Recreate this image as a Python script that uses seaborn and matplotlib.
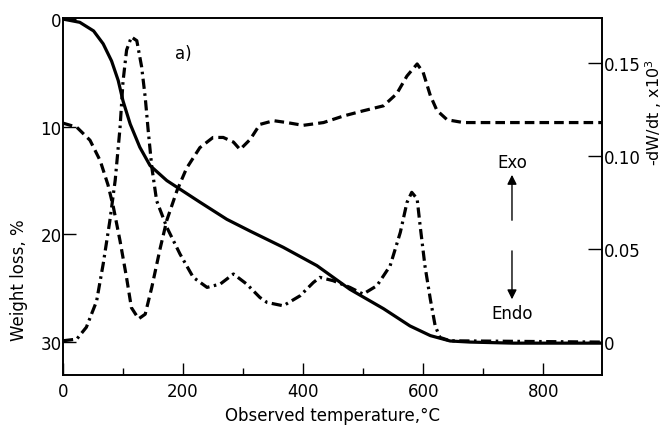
import numpy as np
import pandas as pd
import seaborn as sns
import matplotlib.pyplot as plt
from matplotlib.ticker import MultipleLocator

# TG curve: weight loss (%) vs temperature
tg_temp = [0, 28, 51, 67, 81, 92, 100, 112, 128, 145, 173, 195, 228, 273, 312, 367, 423,
           478, 534, 578, 612, 645, 678, 750, 898]
tg_loss = [0, 0.3, 1.1, 2.3, 3.9, 5.7, 7.6, 9.75, 11.9, 13.6, 15.0, 15.8, 17.0, 18.6, 19.7,
           21.2, 22.9, 25.1, 26.9, 28.5, 29.4, 29.9, 30.0, 30.1, 30.1]

# DTA curve (dashed), plotted against the right scale
dta_temp = [0, 23, 45, 62, 75, 84, 95, 106, 114, 126, 137, 148, 162, 173, 190, 206, 228,
            250, 267, 284, 295, 312, 328, 351, 373, 400, 434, 467, 500, 534, 556, 573, 590,
            600, 612, 623, 640, 667, 750, 898]
dta_val = [0.1177, 0.1155, 0.1085, 0.0975, 0.0845, 0.0725, 0.0545, 0.0345, 0.0185, 0.0125,
           0.015, 0.0295, 0.0505, 0.0655, 0.0815, 0.0935, 0.1045, 0.11, 0.11, 0.1075, 0.1035,
           0.109, 0.117, 0.119, 0.118, 0.1165, 0.118, 0.1215, 0.1243, 0.127, 0.1335, 0.143,
           0.1495, 0.145, 0.1325, 0.1245, 0.1195, 0.118, 0.118, 0.118]

# DTG curve (dash-dot): -dW/dt x10^3
dtg_temp = [0, 23, 39, 56, 67, 78, 87, 95, 100, 106, 114, 123, 131, 137, 142, 148, 156, 173,
            195, 217, 240, 262, 284, 306, 328, 340, 367, 395, 417, 428, 450, 478, 500, 523,
            545, 562, 573, 581, 590, 595, 603, 612, 620, 628, 645, 898]
dtg_val = [0.0007, 0.0016, 0.008, 0.022, 0.042, 0.065, 0.087, 0.115, 0.140, 0.157, 0.164,
           0.162, 0.148, 0.1316, 0.1136, 0.094, 0.076, 0.0617, 0.0473, 0.0348, 0.0294, 0.0312,
           0.0366, 0.0312, 0.024, 0.0213, 0.0195, 0.0249, 0.032, 0.0348, 0.033, 0.0294, 0.0258,
           0.0303, 0.041, 0.059, 0.075, 0.0805, 0.077, 0.0625, 0.041, 0.023, 0.0088, 0.0025,
           0.0007, 0.0]

x_ticks = [0, 200, 400, 600, 800]
left_ticks = [0, 10, 20, 30]
right_ticks = [0, 0.05, 0.10, 0.15]
right_labels = ["0", "0.05", "0.10", "0.15"]

sns.set_style("ticks", {"text.color": "black", "axes.labelcolor": "black",
                        "axes.edgecolor": "black", "xtick.color": "black",
                        "ytick.color": "black"})
plt.rcParams['font.family'] = ['DejaVu Sans']
plt.rcParams['font.size'] = 12

fig = plt.figure(figsize=(6.65, 4.27), dpi=100)
ax = fig.add_axes([0.0947, 0.1194, 0.8106, 0.8361])
ax2 = ax.twinx()

tg = pd.DataFrame({"T": tg_temp, "w": tg_loss})
dta = pd.DataFrame({"T": dta_temp, "v": dta_val})
dtg = pd.DataFrame({"T": dtg_temp, "v": dtg_val})

sns.lineplot(data=tg, x="T", y="w", ax=ax, color="black", linewidth=2.3)
sns.lineplot(data=dta, x="T", y="v", ax=ax2, color="black", linewidth=2.3,
             linestyle=(0, (3.0, 1.6)))
sns.lineplot(data=dtg, x="T", y="v", ax=ax2, color="black", linewidth=2.3,
             linestyle=(0, (3.2, 1.4, 0.8, 1.4)))

ax.set_xlim(0, 898)
ax.set_ylim(33.06, -0.1)
ax2.set_ylim(-0.0177, 0.1742)

ax.set_xticks(x_ticks)
ax.xaxis.set_minor_locator(MultipleLocator(100))
ax.set_yticks(left_ticks)
ax2.set_yticks(right_ticks)
ax2.set_yticklabels(right_labels)

ax.tick_params(axis="x", which="major", direction="in", length=9, width=1, pad=5,
               labelsize=12, top=False)
ax.tick_params(axis="x", which="minor", direction="in", length=5, width=1, top=False)
ax.tick_params(axis="y", direction="in", length=9, width=1, pad=1, labelsize=12)
ax2.tick_params(axis="y", direction="in", length=10, width=1, pad=1, labelsize=12)

for a in (ax, ax2):
    for s in a.spines.values():
        s.set_linewidth(1.2)
        s.set_color("black")
        s.set_visible(True)

ax.set_xlabel("Observed temperature,°C", fontsize=12, labelpad=4)
ax.set_ylabel("Weight loss, %", fontsize=12)
ax.yaxis.set_label_coords(-0.064, 0.269)
ax2.set_ylabel("-dW/dt , x10$^3$", fontsize=11.5)
ax2.yaxis.set_label_coords(1.077, 0.737)

ax2.text(200, 0.1556, "a)", fontsize=12, ha="center", va="center")
ax2.text(748, 0.097, "Exo", fontsize=12, ha="center", va="center")
ax2.text(748, 0.0156, "Endo", fontsize=12, ha="center", va="center")
ax2.annotate("", xy=(748, 0.0914), xytext=(748, 0.064),
             arrowprops=dict(arrowstyle="-|>", color="black", lw=1, mutation_scale=14))
ax2.annotate("", xy=(748, 0.0215), xytext=(748, 0.0505),
             arrowprops=dict(arrowstyle="-|>", color="black", lw=1, mutation_scale=14))

fig.savefig("out.png", dpi=100)
